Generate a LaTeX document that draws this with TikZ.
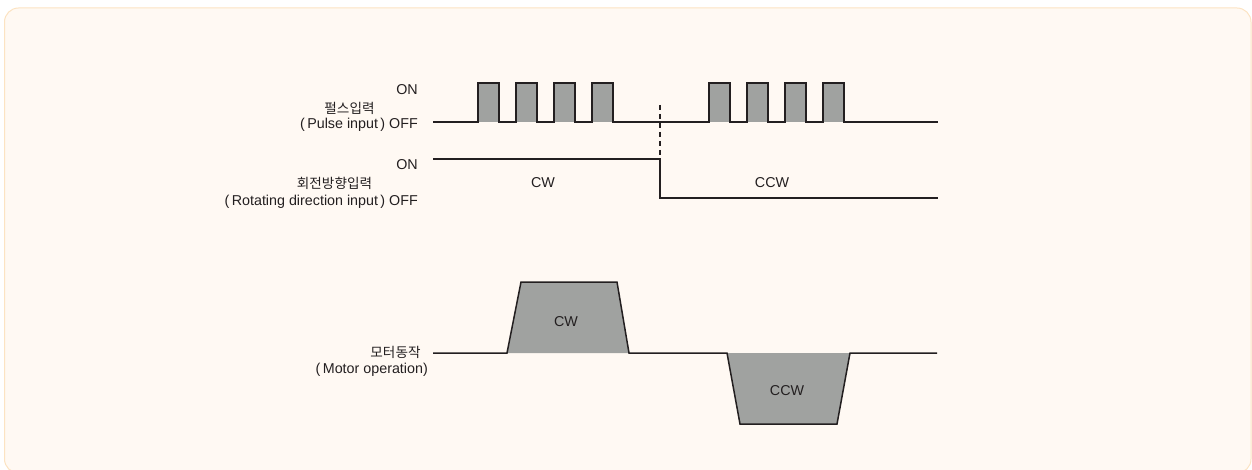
\documentclass[tikz,border=0pt]{standalone}
\usepackage{fontspec}
\setmainfont{Liberation Sans}
\newfontfamily\kr{Noto Sans CJK KR}
\definecolor{bgfill}{HTML}{FFF9F3}
\definecolor{bgline}{HTML}{FCE3C2}
\definecolor{ink}{HTML}{231F20}
\definecolor{pulsegray}{HTML}{A0A2A0}
\begin{document}
\begin{tikzpicture}[x=1pt,y=-1pt,
  wave/.style={line width=1.5pt, draw=ink, line join=miter},
  lbl/.style={font=\fontsize{14.3}{16}\selectfont, text=ink, inner sep=0pt},
  krl/.style={font=\kr\fontsize{13.6}{16}\selectfont, text=ink, inner sep=0pt}]
\useasboundingbox (0,0) rectangle (1252,470);
\begin{scope}
\clip (0,0) rectangle (1252,470);
\draw[fill=bgfill, draw=bgline, line width=1pt, rounded corners=14pt] (4.5,8) rectangle (1251,473);
\end{scope}

% pulse input
\foreach \x in {478,516,554,592,709,747,785,823}
  \fill[pulsegray] (\x,83) rectangle (\x+21,122);
\draw[wave] (433,122) -- (478,122) -- (478,83) -- (499,83) -- (499,122)
  -- (516,122) -- (516,83) -- (537,83) -- (537,122)
  -- (554,122) -- (554,83) -- (575,83) -- (575,122)
  -- (592,122) -- (592,83) -- (613,83) -- (613,122)
  -- (709,122) -- (709,83) -- (730,83) -- (730,122)
  -- (747,122) -- (747,83) -- (768,83) -- (768,122)
  -- (785,122) -- (785,83) -- (806,83) -- (806,122)
  -- (823,122) -- (823,83) -- (844,83) -- (844,122) -- (938,122);

% boundary dashed
\coordinate (dtop) at (660,105);
\coordinate (dbot) at (660,159);
\draw[wave, line width=1.2pt, dash pattern=on 5pt off 4pt] (dtop) -- (dbot);

% direction input
\draw[wave] (433,159) -- (dbot) -- (660,198) -- (938,198);

% motor operation
\fill[pulsegray] (507,353) -- (521,282) -- (617,282) -- (629,353) -- cycle;
\fill[pulsegray] (727,353) -- (740,424) -- (837,424) -- (850,353) -- cycle;
\draw[wave] (433,353) -- (507,353) -- (521,282) -- (617,282) -- (629,353)
  -- (727,353) -- (740,424) -- (837,424) -- (850,353) -- (937,353);

% labels
\node[lbl, anchor=east] (on1) at (418,90) {ON};
\node[krl] (pk) at (349.5,108) {펄스입력};
\node[lbl, anchor=east] (pe) at (418,125) {(\,Pulse input\,) OFF};
\node[lbl, anchor=east] (on2) at (418,165) {ON};
\node[krl] (rk) at (334.5,183) {회전방향입력};
\node[lbl, anchor=east] (re) at (418,202) {(\,Rotating direction input\,) OFF};
\node[lbl] (cw1) at (543,183) {CW};
\node[lbl] (ccw1) at (772,183) {CCW};
\node[lbl] (cw2) at (566,322) {CW};
\node[lbl] (ccw2) at (787,391) {CCW};
\node[krl] (mk) at (395.5,352) {모터동작};
\node[lbl, anchor=east] (me) at (428,370) {(\,Motor operation)};
\end{tikzpicture}
\end{document}
